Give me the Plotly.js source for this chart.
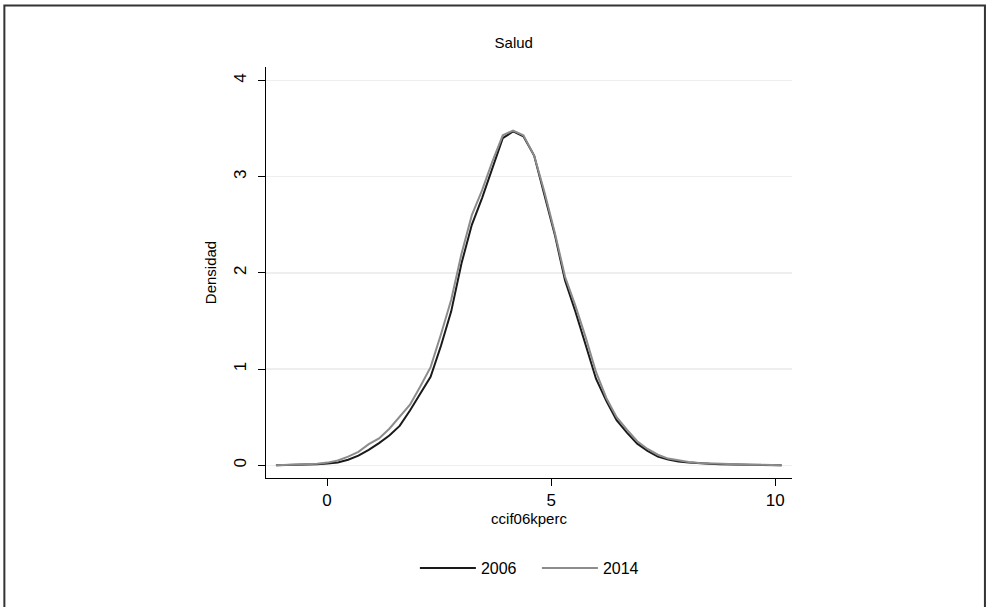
<!DOCTYPE html>
<html>
<head>
<meta charset="utf-8">
<script src="https://cdn.plot.ly/plotly-3.0.1.min.js"></script>
<style>
  html, body { margin: 0; padding: 0; background: #ffffff; }
  #chart { width: 988px; height: 607px; }
</style>
</head>
<body>
<div id="chart"></div>
<script>
// ---- data ----
const xGrid = [-1.14, -0.91, -0.68, -0.45, -0.22, 0.01, 0.24, 0.47, 0.70, 0.93,
               1.16, 1.39, 1.62, 1.85, 2.08, 2.31, 2.54, 2.77, 3.00, 3.23,
               3.46, 3.69, 3.92, 4.15, 4.38, 4.62, 4.85, 5.08, 5.31, 5.54,
               5.77, 6.00, 6.23, 6.46, 6.69, 6.92, 7.15, 7.38, 7.61, 7.84,
               8.07, 8.30, 8.53, 8.76, 8.99, 9.22, 9.45, 9.68, 9.91, 10.14];

const dens2006 = [0.000, 0.002, 0.005, 0.006, 0.010, 0.018, 0.030, 0.058, 0.100, 0.160,
                  0.230, 0.310, 0.410, 0.570, 0.740, 0.920, 1.240, 1.600, 2.100, 2.500,
                  2.780, 3.080, 3.400, 3.470, 3.420, 3.220, 2.820, 2.400, 1.920, 1.600,
                  1.250, 0.900, 0.670, 0.470, 0.340, 0.225, 0.150, 0.090, 0.060, 0.040,
                  0.030, 0.020, 0.015, 0.010, 0.008, 0.006, 0.005, 0.004, 0.003, 0.001];

const dens2014 = [0.000, 0.005, 0.010, 0.008, 0.015, 0.028, 0.050, 0.090, 0.140, 0.220,
                  0.280, 0.380, 0.500, 0.630, 0.820, 1.020, 1.360, 1.720, 2.200, 2.600,
                  2.860, 3.160, 3.430, 3.480, 3.430, 3.220, 2.840, 2.420, 1.960, 1.660,
                  1.330, 0.970, 0.700, 0.500, 0.370, 0.250, 0.170, 0.110, 0.070, 0.050,
                  0.035, 0.025, 0.020, 0.015, 0.010, 0.008, 0.006, 0.005, 0.003, 0.001];

const seriesNames = ['2006', '2014'];
const xTickVals = [0, 5, 10];
const yTickVals = [0, 1, 2, 3, 4];
const chartTitle = 'Salud';
const xTitle = 'ccif06kperc';
const yTitle = 'Densidad';

// ---- figure ----
const tickFont = { family: 'Liberation Sans, Arial, sans-serif', size: 17, color: '#000000' };
const legendFont = { family: 'Liberation Sans, Arial, sans-serif', size: 16, color: '#000000' };

const traces = [
  { x: xGrid, y: dens2006, type: 'scatter', mode: 'lines', name: seriesNames[0],
    line: { color: '#1a1a1a', width: 2 } },
  { x: xGrid, y: dens2014, type: 'scatter', mode: 'lines', name: seriesNames[1],
    line: { color: '#8c8c8c', width: 2 } }
];

const layout = {
  width: 988, height: 607,
  paper_bgcolor: '#ffffff', plot_bgcolor: '#ffffff',
  margin: { l: 266, r: 196, t: 67, b: 129, pad: 0 },
  font: { family: 'Liberation Sans, Arial, sans-serif', color: '#000000' },
  title: { text: chartTitle, x: 0.52, xref: 'container', xanchor: 'center',
           y: 1 - 43 / 607, yref: 'container', yanchor: 'middle',
           font: { size: 15, family: 'Liberation Sans, Arial, sans-serif', color: '#000000' } },
  showlegend: true,
  legend: { orientation: 'h', x: 0.515, xanchor: 'center', y: -0.219, yanchor: 'middle',
            font: legendFont, bgcolor: 'rgba(0,0,0,0)', itemwidth: 56, traceorder: 'normal',
            entrywidth: 51, entrywidthmode: 'pixels' },
  xaxis: {
    range: [-1.362, 10.373], tickvals: xTickVals, ticktext: xTickVals.map(String),
    showgrid: false, zeroline: false, showline: true, linecolor: '#000000', linewidth: 1,
    ticks: 'outside', ticklen: 7, tickcolor: '#000000', tickwidth: 1,
    tickfont: tickFont, mirror: false,
    title: { text: xTitle, standoff: 0, font: { size: 15, color: '#000000' } }
  },
  yaxis: {
    range: [-0.132, 4.14], tickvals: yTickVals, ticktext: yTickVals.map(String),
    showgrid: true, gridcolor: '#eeeeee', gridwidth: 1.5, zeroline: false,
    showline: true, linecolor: '#000000', linewidth: 1,
    ticks: 'outside', ticklen: 7, tickcolor: '#000000', tickwidth: 1,
    tickangle: -90, tickfont: tickFont, ticklabelstandoff: 5,
    title: { text: yTitle, standoff: 10, font: { size: 15, color: '#000000' } }
  },
  shapes: [
    { type: 'rect', xref: 'paper', yref: 'paper',
      x0: -0.4974, x1: 1.3668, y0: -0.34, y1: 1.1496,
      line: { color: '#333333', width: 2 }, fillcolor: 'rgba(0,0,0,0)', layer: 'below' }
  ]
};

Plotly.newPlot('chart', traces, layout, { displayModeBar: false, staticPlot: true });
</script>
</body>
</html>
